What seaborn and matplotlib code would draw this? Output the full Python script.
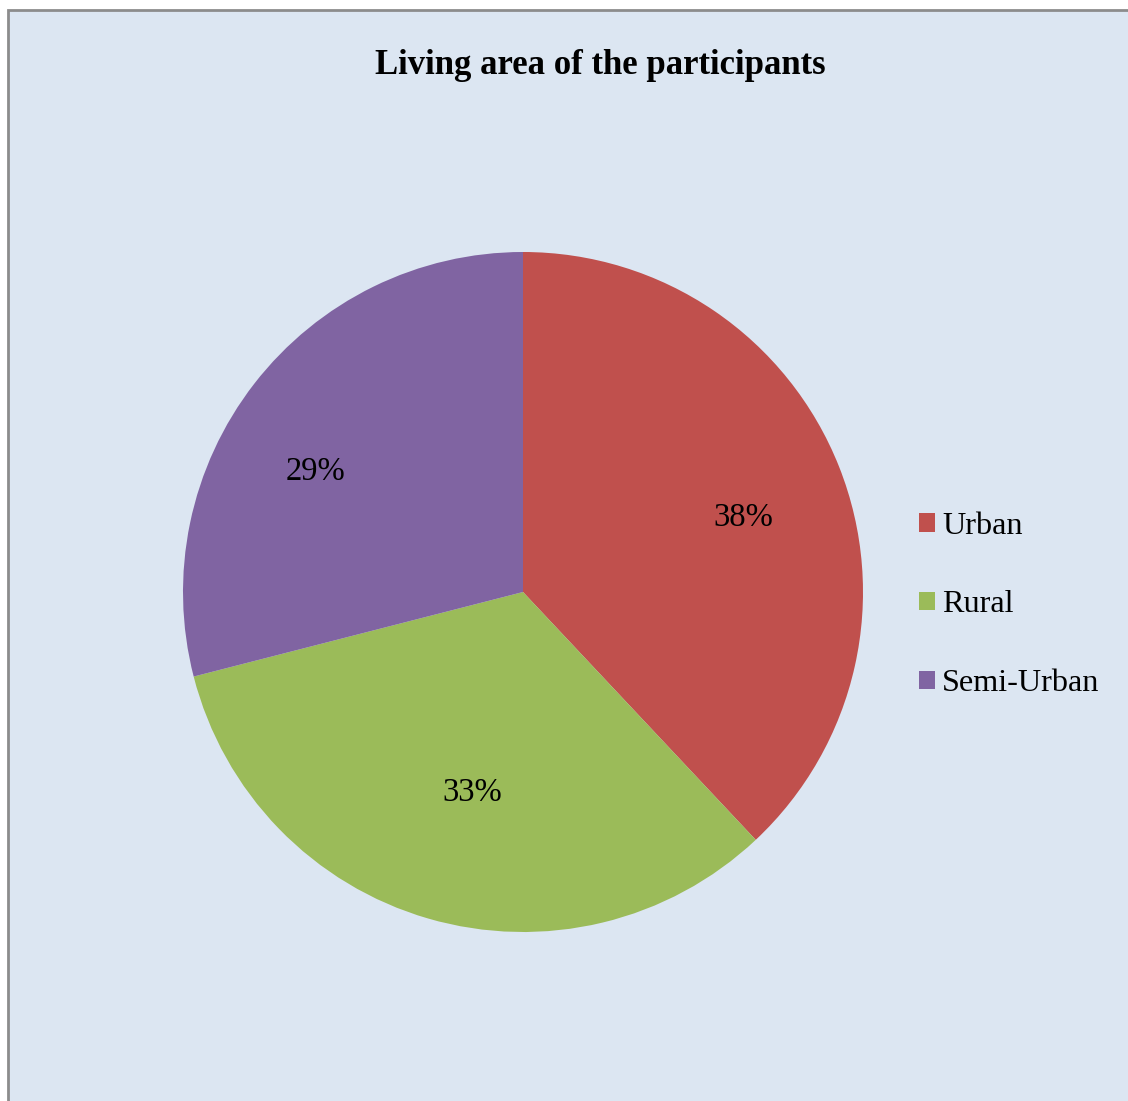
import matplotlib
matplotlib.use("Agg")
import matplotlib.pyplot as plt
from matplotlib.patches import Rectangle
import seaborn as sns
import numpy as np

sns.set_theme(style="white")
plt.rcParams["font.family"] = ["Liberation Serif", "DejaVu Serif"]
plt.rcParams["text.color"] = "black"

# Data
categories = ["Urban", "Rural", "Semi-Urban"]
shares = [38, 33, 29]
slice_colors = ["#C0504D", "#9BBB59", "#8064A2"]
# percentage label placement: distance from centre and angular nudge (deg)
label_radius = [0.683, 0.61, 0.704]
label_nudge = [-3.0, 2.0, 7.7]

W, H = 1128, 1101
fig = plt.figure(figsize=(W / 100, H / 100), dpi=100)
fig.patch.set_facecolor("white")

# Chart area panel with grey frame on the left and top
fig.patches.append(Rectangle((8 / W, -0.05), 1.2, (H - 10) / H + 0.05,
                             transform=fig.transFigure, facecolor="#DCE6F2",
                             edgecolor="#8C8C8C", linewidth=2.0, zorder=-10))

cx, cy, r = 523, 592, 340
ax = fig.add_axes([(cx - r) / W, (H - cy - r) / H, 2 * r / W, 2 * r / H])
ax.set_facecolor("none")
ax.set_zorder(1)

wedges, _ = ax.pie(shares, colors=slice_colors, startangle=90, counterclock=False,
                   radius=1.0, wedgeprops=dict(linewidth=0))

for w, val, d, nudge in zip(wedges, shares, label_radius, label_nudge):
    mid = np.deg2rad((w.theta1 + w.theta2) / 2 + nudge)
    ax.text(d * np.cos(mid), d * np.sin(mid), f"{val}%", ha="center", va="center",
            fontsize=23.5, color="black")

ax.set_xlim(-1, 1)
ax.set_ylim(-1, 1)
ax.set_aspect("equal")
ax.axis("off")

fig.text(600 / W, 1 - 65 / H, "Living area of the participants", ha="center",
         va="center", fontsize=25, fontweight="bold", color="black")

leg = fig.legend(wedges, categories, loc="center left",
                 bbox_to_anchor=(903 / W, 1 - 605 / H), frameon=False,
                 fontsize=23.2, handlelength=0.49, handleheight=0.49,
                 handletextpad=0.22, labelspacing=1.54, borderpad=0)
for t in leg.get_texts():
    t.set_color("black")

fig.savefig("out.png", dpi=100, facecolor=fig.get_facecolor())
